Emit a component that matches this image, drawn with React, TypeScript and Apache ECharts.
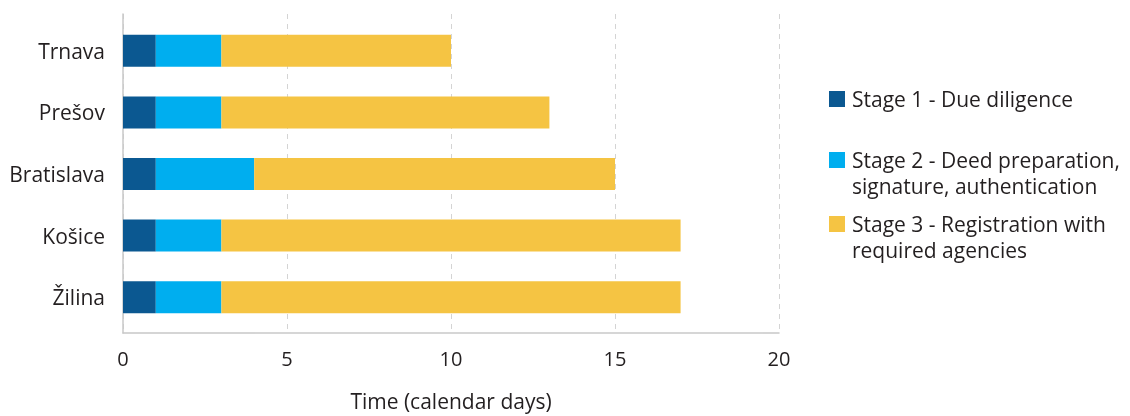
import React, { useEffect, useRef } from "react";
import * as echarts from "echarts";

const categories = ["Trnava", "Prešov", "Bratislava", "Košice", "Žilina"];
const stage1 = [1, 1, 1, 1, 1];
const stage2 = [2, 2, 3, 2, 2];
const stage3 = [7, 10, 11, 14, 14];
const seriesNames = [
  "Stage 1 - Due diligence",
  "Stage 2 - Deed preparation,\nsignature, authentication",
  "Stage 3 - Registration with\nrequired agencies",
];
const colors = ["#0b5891", "#00aeef", "#f5c443"];
const xTicks = { min: 0, max: 20, interval: 5 };
const axisTitle = "Time (calendar days)";

const FONT = "'Open Sans', sans-serif";
const TEXT = "#231f20";

export default function App() {
  const ref = useRef<HTMLDivElement>(null);
  useEffect(() => {
    if (!ref.current) return;
    const chart = echarts.init(ref.current, undefined, { renderer: "svg" });
    const legendTops = [91, 152, 216];
    const graphic: any[] = [];
    seriesNames.forEach((n, i) => {
      graphic.push({
        type: "rect",
        shape: { x: 829, y: legendTops[i], width: 16, height: 16 },
        style: { fill: colors[i] },
      });
      graphic.push({
        type: "text",
        x: 852,
        y: legendTops[i] - 4.75,
        style: {
          text: n,
          fill: TEXT,
          fontSize: 21,
          fontFamily: FONT,
          lineHeight: 25.5,
          verticalAlign: "top",
          align: "left",
        },
      });
    });
    const data = [stage1, stage2, stage3];
    chart.setOption({
      animation: false,
      textStyle: { fontFamily: FONT },
      grid: [
        { left: 123, right: 351, top: 14, bottom: 80 },
        { left: 123, right: 351, top: 20, bottom: 88 },
      ],
      xAxis: [
        {
          gridIndex: 0,
          type: "value",
          ...xTicks,
          axisLine: { show: true, lineStyle: { color: "#c8c8c8", width: 1.5 } },
          axisTick: { show: false },
          splitLine: { show: true, lineStyle: { color: "#d4d4d4", type: [5, 5], width: 1 } },
          axisLabel: { fontSize: 20, color: TEXT, margin: 15, fontFamily: FONT },
          name: axisTitle,
          nameLocation: "middle",
          nameGap: 57,
          nameTextStyle: { fontSize: 21, color: TEXT, fontFamily: FONT },
        },
        { gridIndex: 1, type: "value", ...xTicks, show: false },
      ],
      yAxis: [
        {
          gridIndex: 0,
          type: "category",
          data: categories,
          axisLine: { show: true, lineStyle: { color: "#c8c8c8", width: 1.5 } },
          axisTick: { show: false },
          axisLabel: { show: false },
          splitLine: { show: false },
        },
        {
          gridIndex: 1,
          type: "category",
          inverse: true,
          data: categories,
          axisLine: { show: false },
          axisTick: { show: false },
          axisLabel: { fontSize: 21, color: TEXT, margin: 18, fontFamily: FONT },
        },
      ],
      series: data.map((d, i) => ({
        type: "bar",
        name: seriesNames[i],
        stack: "total",
        xAxisIndex: 1,
        yAxisIndex: 1,
        barWidth: 32,
        data: d,
        itemStyle: { color: colors[i] },
      })),
      graphic,
    });
    return () => chart.dispose();
  }, []);
  return (
    <div
      ref={ref}
      style={{ position: "fixed", left: 0, top: 0, width: 1130, height: 416 }}
    />
  );
}
